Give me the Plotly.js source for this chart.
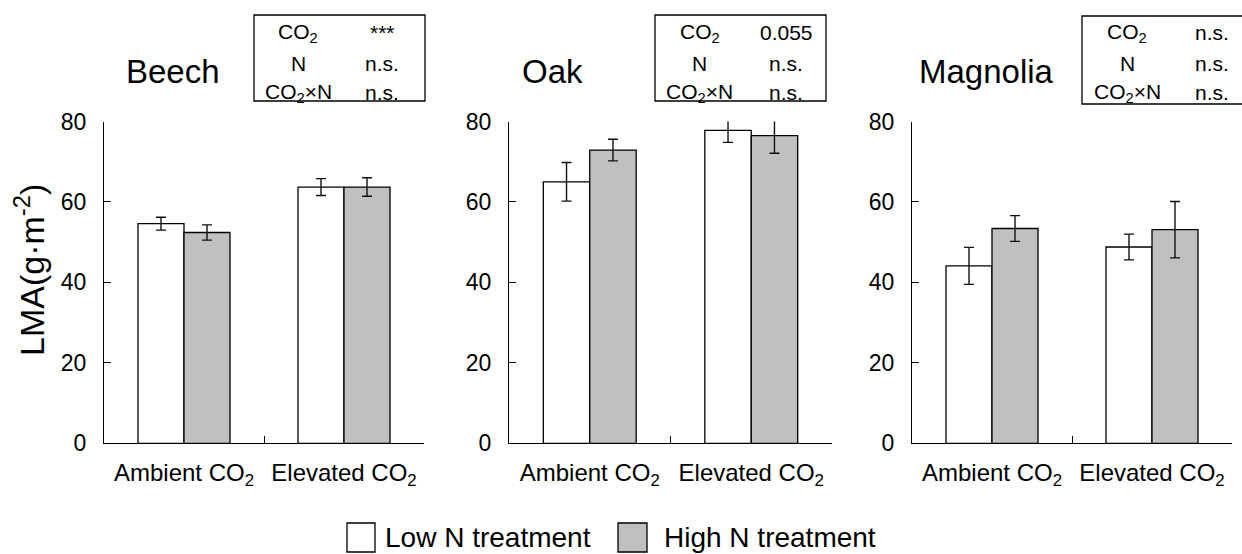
<!DOCTYPE html>
<html>
<head>
<meta charset="utf-8">
<script src="https://cdn.plot.ly/plotly-3.0.1.min.js"></script>
<style>html,body{margin:0;padding:0;background:#fff;}#chart{width:1242px;height:554px;}</style>
</head>
<body>
<div id="chart"></div>
<script>
// ---- data ----
const categories = ['Ambient CO<sub>2</sub>', 'Elevated CO<sub>2</sub>'];
const species = ['Beech', 'Oak', 'Magnolia'];
const seriesNames = ['Low N treatment', 'High N treatment'];

const beechLow = [54.6, 63.7];
const beechLowErr = [1.6, 2.1];
const beechHigh = [52.4, 63.7];
const beechHighErr = [1.9, 2.3];

const oakLow = [65.0, 77.8];
const oakLowErr = [4.8, 3.0];
const oakHigh = [72.9, 76.5];
const oakHighErr = [2.7, 4.4];

const magLow = [44.1, 48.8];
const magLowErr = [4.6, 3.2];
const magHigh = [53.4, 53.1];
const magHighErr = [3.2, 7.0];

const statFactors = ['CO<sub>2</sub>', 'N', 'CO<sub>2</sub>×N'];
const beechStats = ['***', 'n.s.', 'n.s.'];
const oakStats = ['0.055', 'n.s.', 'n.s.'];
const magStats = ['n.s.', 'n.s.', 'n.s.'];

const yTicks = [0, 20, 40, 60, 80];

// ---- layout geometry (pixels) ----
const W = 1242, H = 554;
const px = v => v / W;
const py = v => 1 - v / H;
const FONT = '"Liberation Sans", Arial, Helvetica, sans-serif';

const panelData = [
  {low: beechLow, lowErr: beechLowErr, high: beechHigh, highErr: beechHighErr, stats: beechStats},
  {low: oakLow, lowErr: oakLowErr, high: oakHigh, highErr: oakHighErr, stats: oakStats},
  {low: magLow, lowErr: magLowErr, high: magHigh, highErr: magHighErr, stats: magStats}
];
const panelGeom = [
  {xd: [104, 424], tx: 173, box: [254, 15, 425, 101], c1: 298, c2: 382},
  {xd: [509, 832], tx: 552, box: [655, 15, 826, 101], c1: 700, c2: 786},
  {xd: [912, 1232], tx: 986, box: [1082, 16, 1260, 104], c1: 1127, c2: 1212}
];
const rowY = [33, 64, 93];
const yDom = [py(443.3), py(121.5)];

const fills = ['#ffffff', '#c0c0c0'];
const traces = [];
const layout = {
  width: W, height: H,
  margin: {l: 0, r: 0, t: 0, b: 0},
  paper_bgcolor: '#fff', plot_bgcolor: 'rgba(0,0,0,0)',
  font: {family: FONT, color: '#000'},
  showlegend: false,
  barmode: 'group',
  bargap: 0.425,
  bargroupgap: 0,
  shapes: [],
  annotations: []
};

panelData.forEach((d, i) => {
  const g = panelGeom[i];
  const xa = i === 0 ? 'x' : 'x' + (i + 1);
  const ya = i === 0 ? 'y' : 'y' + (i + 1);
  const vals = [d.low, d.high];
  const errs = [d.lowErr, d.highErr];
  vals.forEach((v, s) => {
    traces.push({
      type: 'bar', x: categories, y: v, name: seriesNames[s],
      xaxis: xa, yaxis: ya, cliponaxis: false,
      marker: {color: fills[s], line: {color: '#000', width: 1.3}},
      error_y: {type: 'data', array: errs[s], visible: true, color: '#111', thickness: 1.4, width: 5},
      hoverinfo: 'skip'
    });
  });
  const xName = i === 0 ? 'xaxis' : 'xaxis' + (i + 1);
  const yName = i === 0 ? 'yaxis' : 'yaxis' + (i + 1);
  layout[xName] = {
    domain: [px(g.xd[0]), px(g.xd[1])], anchor: ya,
    type: 'category', range: [-0.5, 1.5],
    showline: true, linecolor: '#000', linewidth: 1.3,
    ticks: 'inside', tickson: 'boundaries', ticklen: 7, tickcolor: '#000', tickwidth: 1.3,
    showgrid: false, zeroline: false,
    tickangle: 0,
    tickfont: {size: 24, family: FONT, color: '#000'},
    ticklabelstandoff: 8,
    fixedrange: true
  };
  layout[yName] = {
    domain: yDom, anchor: xa,
    range: [0, 80], tickvals: yTicks, ticktext: yTicks.map(String),
    showline: true, linecolor: '#000', linewidth: 1.3,
    ticks: 'inside', ticklen: 7, tickcolor: '#000', tickwidth: 1.3,
    showgrid: false, zeroline: false,
    tickfont: {size: 23, family: FONT, color: '#000'},
    ticklabelstandoff: 12,
    fixedrange: true
  };
  // panel title
  layout.annotations.push({
    xref: 'paper', yref: 'paper', x: px(g.tx), y: py(72),
    xanchor: 'center', yanchor: 'middle', showarrow: false,
    text: species[i], font: {size: 33, family: FONT, color: '#000'}
  });
  // stat box
  layout.shapes.push({
    type: 'rect', xref: 'paper', yref: 'paper',
    x0: px(g.box[0]), x1: px(g.box[2]), y0: py(g.box[3]), y1: py(g.box[1]),
    line: {color: '#000', width: 1.3}, fillcolor: 'rgba(0,0,0,0)'
  });
  statFactors.forEach((f, r) => {
    layout.annotations.push({
      xref: 'paper', yref: 'paper', x: px(g.c1), y: py(rowY[r]),
      xanchor: 'center', yanchor: 'middle', showarrow: false,
      text: f, font: {size: 21, family: FONT, color: '#000'}
    });
    layout.annotations.push({
      xref: 'paper', yref: 'paper', x: px(g.c2), y: py(rowY[r]),
      xanchor: 'center', yanchor: 'middle', showarrow: false,
      text: d.stats[r], font: {size: 21, family: FONT, color: '#000'}
    });
  });
});

// y-axis label
layout.annotations.push({
  xref: 'paper', yref: 'paper', x: px(29), y: py(270),
  xanchor: 'center', yanchor: 'middle', showarrow: false, textangle: -90,
  text: 'LMA(g·m<sup>-2</sup>)', font: {size: 34, family: FONT, color: '#000'}
});

// legend (drawn)
const legendItems = [
  {sq: [347, 523, 375, 552], tx: 383},
  {sq: [618, 523, 647, 552], tx: 662}
];
legendItems.forEach((it, s) => {
  layout.shapes.push({
    type: 'rect', xref: 'paper', yref: 'paper',
    x0: px(it.sq[0]), x1: px(it.sq[2]), y0: py(it.sq[3]), y1: py(it.sq[1]),
    line: {color: '#000', width: 1.3}, fillcolor: fills[s]
  });
  layout.annotations.push({
    xref: 'paper', yref: 'paper', x: px(it.tx), y: py(537),
    xanchor: 'left', yanchor: 'middle', showarrow: false,
    text: seriesNames[s], font: {size: 28, family: FONT, color: '#000'}
  });
});

Plotly.newPlot('chart', traces, layout, {displayModeBar: false});
</script>
</body>
</html>
